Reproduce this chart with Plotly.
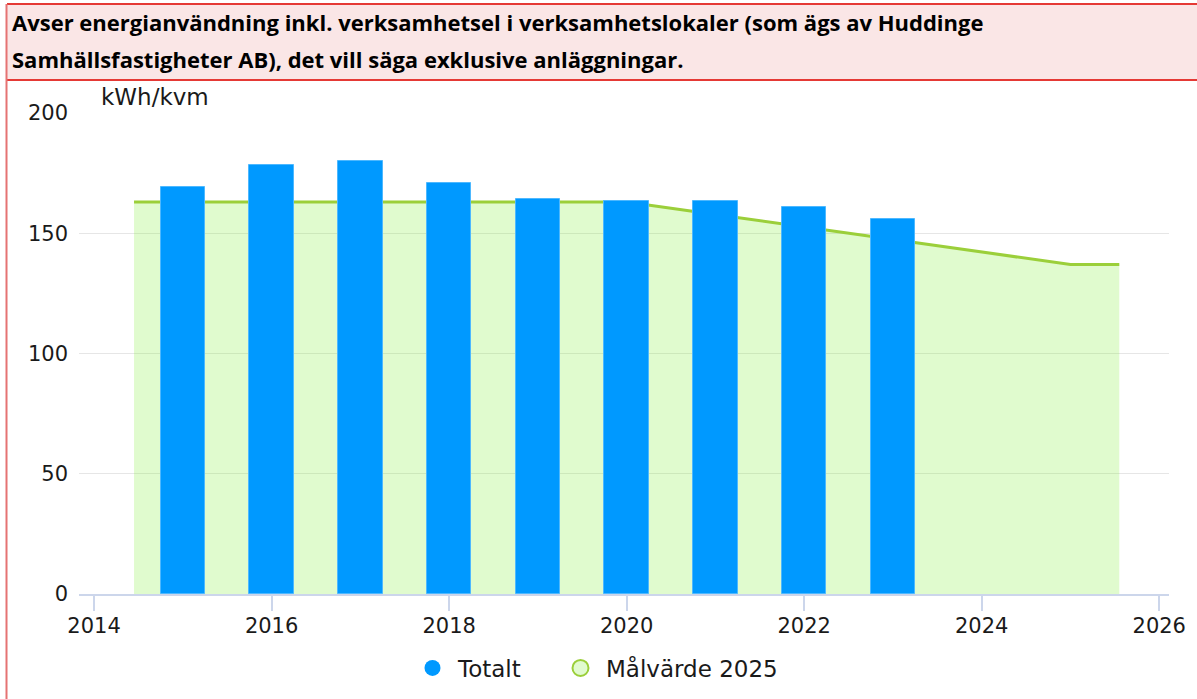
import plotly.graph_objects as go

# ---- data ----
years = [2015, 2016, 2017, 2018, 2019, 2020, 2021, 2022, 2023]
totalt = [169.1, 178.4, 180.0, 170.9, 164.2, 163.4, 163.4, 160.9, 155.9]

target_years = [2014.45, 2015, 2016, 2017, 2018, 2019, 2020, 2021, 2022, 2023, 2024, 2025, 2025.55]
target_values = [163, 163, 163, 163, 163, 163, 163, 157.8, 152.6, 147.4, 142.2, 137, 137]

x_ticks = [2014, 2016, 2018, 2020, 2022, 2024, 2026]
y_ticks = [0, 50, 100, 150, 200]

title_line1 = "Avser energianvändning inkl. verksamhetsel i verksamhetslokaler (som ägs av Huddinge"
title_line2 = "Samhällsfastigheter AB), det vill säga exklusive anläggningar."
unit_label = "kWh/kvm"
series_names = ["Totalt", "Målvärde 2025"]

# ---- layout geometry (pixels) ----
W, H = 1197, 699
ML, MR, MT, MB = 79, 28, 113, 105
PW, PH = W - ML - MR, H - MT - MB


def px(x):
    return (x - ML) / PW


def py(y):
    return (H - MB - y) / PH


BAR_COLOR = "#0099ff"
LINE_COLOR = "#9bcf3a"
FILL_COLOR = "rgba(131,239,59,0.25)"
TEXT_COLOR = "#1a1a1a"
FONT = "DejaVu Sans"

fig = go.Figure()

# target area (base subplot, drawn below)
fig.add_trace(go.Scatter(
    x=target_years, y=target_values, mode="lines", fill="tozeroy",
    line=dict(color=LINE_COLOR, width=3), fillcolor=FILL_COLOR,
    name=series_names[1], showlegend=False, hoverinfo="x+y",
))
# bars on overlaying y-axis so they are drawn above the area
fig.add_trace(go.Bar(
    x=years, y=totalt, width=0.5, name=series_names[0], yaxis="y2",
    marker=dict(color=BAR_COLOR, line=dict(color="#4db8ff", width=1)),
    showlegend=False,
))
# legend entries
fig.add_trace(go.Scatter(
    x=[None], y=[None], mode="markers", name=series_names[0], legend="legend",
    marker=dict(symbol="circle", size=20, color=BAR_COLOR),
))
fig.add_trace(go.Scatter(
    x=[None], y=[None], mode="markers", name=series_names[1], legend="legend2",
    marker=dict(symbol="circle", size=20, color="#e1fbcf",
                line=dict(color=LINE_COLOR, width=2)),
))

shapes = [
    # title box
    dict(type="rect", xref="paper", yref="paper",
         x0=px(7), x1=px(W + 5), y0=py(80), y1=py(4),
         fillcolor="#fae6e6", line=dict(width=0), layer="below"),
    dict(type="line", xref="paper", yref="paper",
         x0=px(7), x1=px(W + 5), y0=py(4), y1=py(4),
         line=dict(color="#e53935", width=2)),
    dict(type="line", xref="paper", yref="paper",
         x0=px(7), x1=px(W + 5), y0=py(80), y1=py(80),
         line=dict(color="#e53935", width=2)),
    dict(type="line", xref="paper", yref="paper",
         x0=px(6.5), x1=px(6.5), y0=py(4), y1=py(H + 5),
         line=dict(color="#e57373", width=2)),
]

annotations = [
    dict(text=f"<b>{title_line1}</b>", xref="paper", yref="paper",
         x=px(10), y=py(22), xanchor="left", yanchor="middle", showarrow=False,
         font=dict(family="Open Sans", size=22, color="#000000")),
    dict(text=f"<b>{title_line2}</b>", xref="paper", yref="paper",
         x=px(10), y=py(59), xanchor="left", yanchor="middle", showarrow=False,
         font=dict(family="Open Sans", size=22, color="#000000")),
    dict(text=unit_label, xref="paper", yref="paper",
         x=px(99), y=py(97), xanchor="left", yanchor="middle", showarrow=False,
         font=dict(family=FONT, size=23, color=TEXT_COLOR)),
]

legend_common = dict(orientation="h", xref="container", yref="container",
                     xanchor="left", y=1 - 668 / H, yanchor="middle",
                     font=dict(family=FONT, size=23, color=TEXT_COLOR),
                     itemwidth=41, bgcolor="rgba(0,0,0,0)")

fig.update_layout(
    width=W, height=H,
    margin=dict(l=ML, r=MR, t=MT, b=MB, pad=0, autoexpand=False),
    paper_bgcolor="white", plot_bgcolor="white",
    font=dict(family=FONT, size=21, color=TEXT_COLOR),
    shapes=shapes, annotations=annotations,
    bargap=0,
    legend=dict(legend_common, x=(431 - 24) / W),
    legend2=dict(legend_common, x=(579 - 24) / W),
    xaxis=dict(range=[2013.83, 2026.11], tickvals=x_ticks, tickformat="d",
               showgrid=False, zeroline=False, showline=True,
               linecolor="#ccd6eb", linewidth=2, ticks="outside",
               ticklen=15, tickcolor="#ccd6eb", tickwidth=2,
               ticklabelstandoff=-3,
               tickfont=dict(family=FONT, size=21, color=TEXT_COLOR)),
    yaxis=dict(range=[0, 200], tickvals=y_ticks, showgrid=True,
               gridcolor="#e6e6e6", gridwidth=1, zeroline=False,
               showline=False, ticks="", ticklabelstandoff=10,
               tickfont=dict(family=FONT, size=21, color=TEXT_COLOR)),
    yaxis2=dict(range=[0, 200], overlaying="y", showgrid=False,
                zeroline=False, showline=False, showticklabels=False,
                ticks=""),
)

fig.write_html("out.html", config={"displayModeBar": False},
               post_script="document.body.style.margin='0';")
